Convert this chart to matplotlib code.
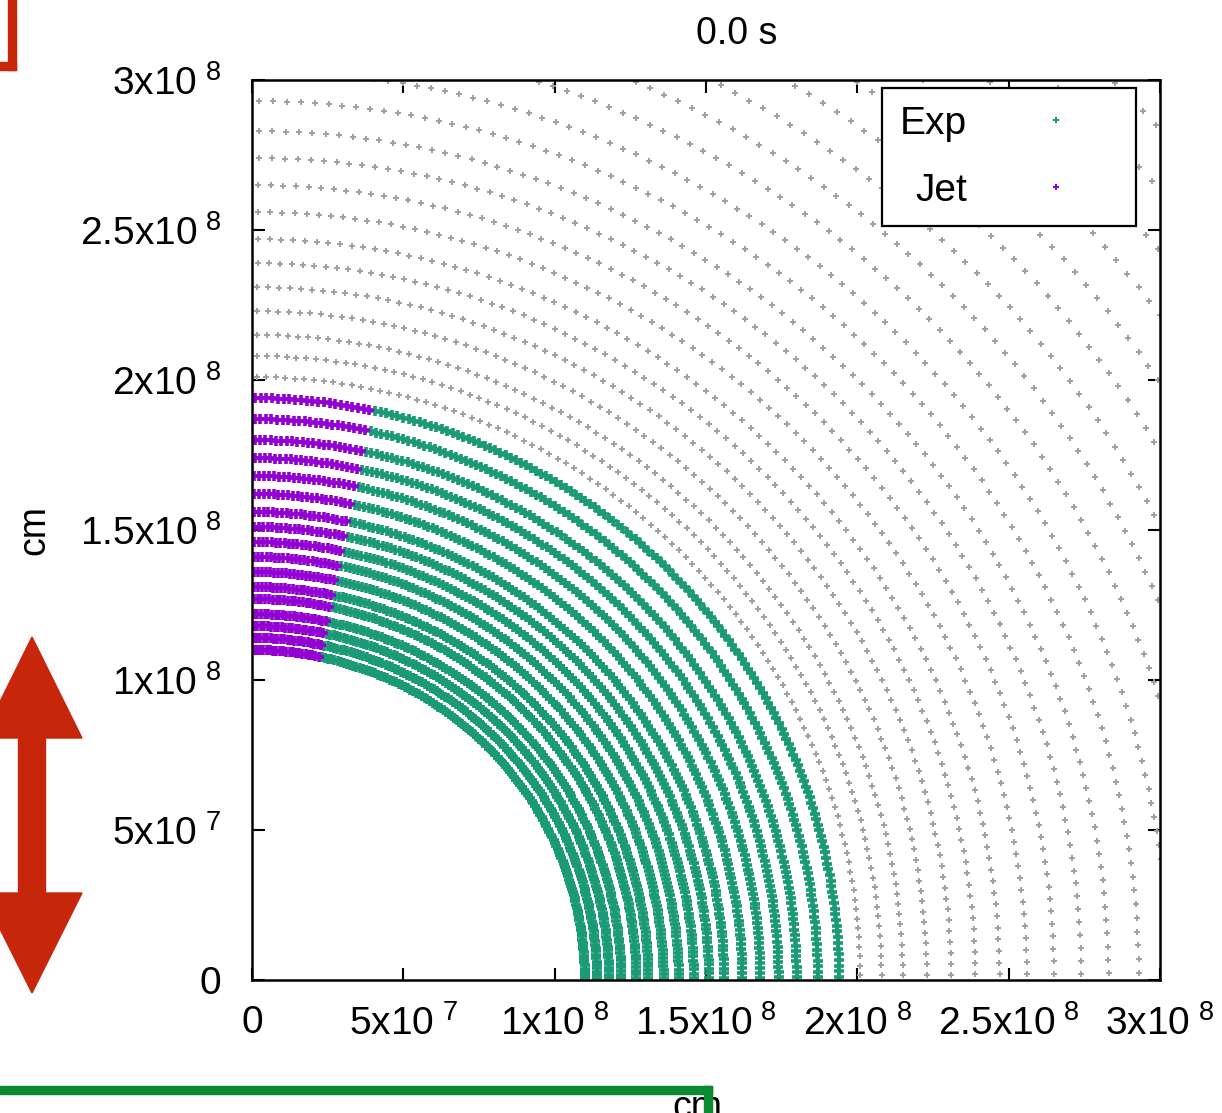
import numpy as np
import matplotlib
matplotlib.use("Agg")
import matplotlib.pyplot as plt
from matplotlib.lines import Line2D
from matplotlib.patches import Polygon, Rectangle

plt.rcParams['font.family'] = ['Liberation Sans', 'DejaVu Sans']
plt.rcParams['mathtext.fontset'] = 'custom'
plt.rcParams['mathtext.rm'] = 'Liberation Sans'

# shell radii (units of 1e8 cm)
exp_radii = [1.10, 1.14, 1.18, 1.22, 1.27, 1.31, 1.36, 1.41, 1.46, 1.51,
             1.56, 1.62, 1.68, 1.74, 1.80, 1.87, 1.94]
bg_radii = [2.01, 2.08, 2.15, 2.23, 2.31, 2.39, 2.47, 2.56, 2.65, 2.74, 2.83,
            2.93, 3.03, 3.14, 3.25, 3.36, 3.48, 3.60, 3.73, 3.86, 3.99, 4.13, 4.28]
n_exp = 160          # particles per quarter shell
n_bg = 100
jet_half_angle = 11.7  # degrees from the y axis

ticks = [0, 5e7, 1e8, 1.5e8, 2e8, 2.5e8, 3e8]
tick_labels = ['0',
               r'$\mathregular{5x10^{\ 7}}$',
               r'$\mathregular{1x10^{\ 8}}$',
               r'$\mathregular{1.5x10^{\ 8}}$',
               r'$\mathregular{2x10^{\ 8}}$',
               r'$\mathregular{2.5x10^{\ 8}}$',
               r'$\mathregular{3x10^{\ 8}}$']

c_exp = '#1a9b76'
c_jet = '#9400d3'
c_bg = '#a0a0a0'


def shell_points(radii, n):
    th = (np.arange(n) + 0.5) * (np.pi / 2) / n
    r = np.repeat(np.array(radii) * 1e8, n)
    t = np.tile(th, len(radii))
    return r * np.cos(t), r * np.sin(t), t


fig = plt.figure(figsize=(12.22, 11.13), dpi=100)
ax = fig.add_axes([252 / 1222, 133 / 1113, 908 / 1222, 900 / 1113])

bx, by, _ = shell_points(bg_radii, n_bg)
ax.plot(bx, by, ls='none', marker='+', ms=5, mew=1.4, color=c_bg)

ex, ey, et = shell_points(exp_radii, n_exp)
jet = et > np.deg2rad(90 - jet_half_angle)
ax.plot(ex[~jet], ey[~jet], ls='none', marker='+', ms=7.2, mew=2.6, color=c_exp)
ax.plot(ex[jet], ey[jet], ls='none', marker='+', ms=7.2, mew=2.6, color=c_jet)

ax.set_xlim(0, 3e8)
ax.set_ylim(0, 3e8)
ax.set_xticks(ticks, tick_labels)
ax.set_yticks(ticks, tick_labels)
for s in ax.spines.values():
    s.set_linewidth(1.8)
ax.tick_params(direction='in', length=9, width=1.5, top=True, right=True,
               labelsize=28)
ax.tick_params(axis='y', pad=22)
ax.tick_params(axis='x', pad=18)

ax.set_title('0.0 s', x=0.534, pad=26, fontsize=27)
ax.set_xlabel('cm', fontsize=27)
ax.set_ylabel('cm', fontsize=27)
ax.xaxis.set_label_coords(0.49, -0.122)
ax.yaxis.set_label_coords(-0.22, 0.5)

handles = [Line2D([], [], ls='none', marker='+', ms=5, mew=1.5, color=c_exp),
           Line2D([], [], ls='none', marker='+', ms=5, mew=1.5, color=c_jet)]
leg = ax.legend(handles, ['Exp', 'Jet'], loc='upper right',
                bbox_to_anchor=(0.9736, 0.991), borderaxespad=0,
                markerfirst=False, fontsize=28, handlelength=3.2,
                handletextpad=0.7, labelspacing=0.8, borderpad=0.45,
                fancybox=False, framealpha=1, edgecolor='black')
leg.get_frame().set_linewidth(1.6)

# screenshot annotations on top
ov = fig.add_axes([0, 0, 1, 1], zorder=10)
ov.set_xlim(0, 1222)
ov.set_ylim(1113, 0)
ov.axis('off')
red = '#c8260a'
ov.add_patch(Rectangle((8, 0), 8, 70, color=red))
ov.add_patch(Rectangle((0, 62), 16, 8, color=red))
ov.add_patch(Polygon([(32, 637), (82, 738), (45.5, 738), (45.5, 893), (82, 893),
                      (32, 993), (-18, 893), (18.5, 893), (18.5, 738), (-18, 738)],
                     closed=True, color=red))
green = '#0b8a32'
ov.add_patch(Rectangle((0, 1086), 712, 8, color=green))
ov.add_patch(Rectangle((704, 1086), 8, 30, color=green))

fig.savefig('out.png', dpi=100)
